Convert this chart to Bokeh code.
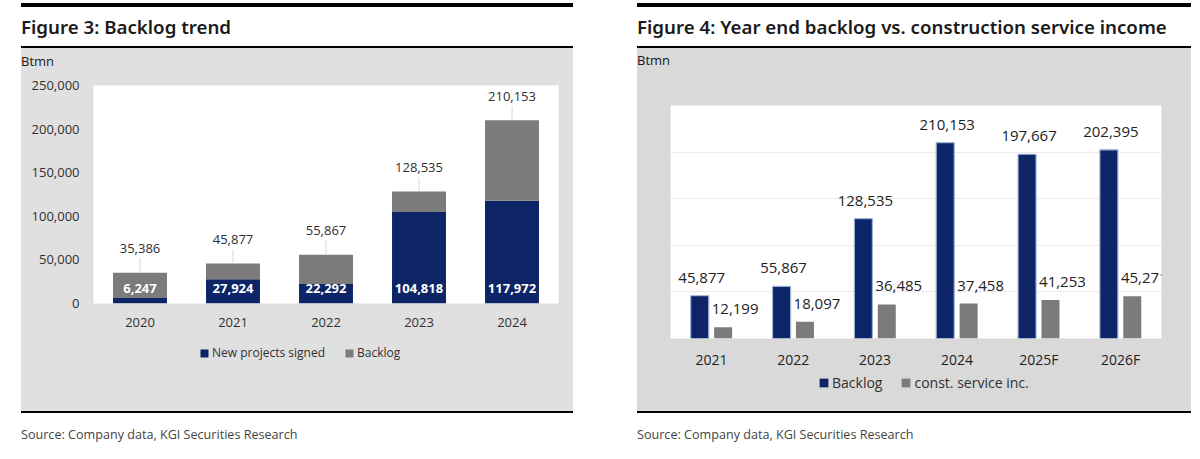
from bokeh.plotting import figure
from bokeh.models import (ColumnDataSource, Range1d, FixedTicker, NumeralTickFormatter,
                          Legend, LegendItem, Div, Spacer)
from bokeh.layouts import row, column
from bokeh.transform import dodge
from bokeh.core.properties import value
from bokeh.embed import file_html
from bokeh.resources import INLINE

# ---------------- data ----------------
years_l = ["2020", "2021", "2022", "2023", "2024"]
new_signed = [6247, 27924, 22292, 104818, 117972]
backlog_total = [35386, 45877, 55867, 128535, 210153]

years_r = ["2021", "2022", "2023", "2024", "2025F", "2026F"]
backlog_r = [45877, 55867, 128535, 210153, 197667, 202395]
const_inc = [12199, 18097, 36485, 37458, 41253, 45271]

y_ticks = [0, 50000, 100000, 150000, 200000, 250000]

title_l = "Figure 3: Backlog trend"
title_r = "Figure 4: Year end backlog vs. construction service income"
unit_txt = "Btmn"
source_txt = "Source: Company data, KGI Securities Research"

# ---------------- style ----------------
BLUE = "#0d2466"
GRAY = "#7b7b7b"
BG_L = "#e0e0e0"
BG_R = "#d9d9d9"
FONT = "Open Sans"
TXT = "#303030"
YMAX = 250000


def header(txt, w):
    html = (f'<div style="box-sizing:content-box;position:relative;top:3px;width:{w}px;height:39px;'
            f'border-top:4px solid #000;border-bottom:2px solid #000;'
            f'font-family:\'Noto Sans\';font-weight:600;font-size:18.7px;color:#1a1a1a;'
            f'line-height:39px;white-space:nowrap;">{txt}</div>')
    return Div(text=html, width=w, height=48, margin=(0, 0, 0, 0),
               styles={"overflow": "visible"})


def unit_div(txt, w, bg, pad):
    html = (f'<div style="box-sizing:border-box;width:{w}px;height:22px;background:{bg};'
            f'padding-top:{pad}px;font-family:\'Open Sans\';font-size:13px;color:#1a1a1a;'
            f'line-height:16px;white-space:nowrap;">{txt}</div>')
    return Div(text=html, width=w, height=22, margin=(0, 0, 0, 0),
               styles={"overflow": "visible", "background-color": bg})


def footer(txt, w):
    html = (f'<div style="box-sizing:content-box;width:{w}px;border-top:2px solid #000;padding-top:14px;'
            f'font-family:\'Open Sans\';font-size:12.6px;color:#444;line-height:15px;'
            f'white-space:nowrap;">{txt}</div>')
    return Div(text=html, width=w, height=36, margin=(0, 0, 0, 0),
               styles={"overflow": "visible"})


def legend_strip(w, h, bg, labels, colors, loc, font_px, glyph, spacing):
    lf = figure(width=w, height=h, x_range=Range1d(0, 1), y_range=Range1d(0, 1),
                output_backend="svg", toolbar_location=None,
                x_axis_location=None, y_axis_location=None, min_border=0,
                background_fill_color=bg, border_fill_color=bg, outline_line_color=None,
                styles={"background-color": bg})
    lf.grid.visible = False
    items = []
    for lab, col in zip(labels, colors):
        # one point outside the visible range so the legend swatch gets its colour
        r = lf.vbar(x=[5], top=[5], bottom=[4], width=0.1, fill_color=col, line_color=None)
        items.append(LegendItem(label=lab, renderers=[r]))
    lf.add_layout(Legend(items=items, location=loc, orientation="horizontal",
                         padding=0, margin=0, spacing=spacing, label_standoff=3,
                         glyph_width=glyph, glyph_height=glyph, label_height=14,
                         label_text_font=FONT, label_text_font_size=font_px,
                         label_text_color=TXT, border_line_color=None,
                         background_fill_alpha=0), "center")
    return lf


# ---------------- left chart ----------------
WL = 552
pl = figure(x_range=years_l, y_range=Range1d(0, YMAX), width=WL, height=268,
            output_backend="svg", toolbar_location=None,
            min_border_left=72, min_border_right=15, min_border_top=15, min_border_bottom=35,
            background_fill_color="white", border_fill_color=BG_L,
            outline_line_color=None, styles={"background-color": BG_L})
pl.xgrid.visible = False
pl.ygrid.visible = False

rest = [t - n for t, n in zip(backlog_total, new_signed)]
px_to_val = YMAX / 218.0
src_l = ColumnDataSource(dict(
    year=years_l, new=new_signed, rest=rest, total=backlog_total,
    lead=[t + 14 * px_to_val for t in backlog_total],
    total_lbl=[f"{v:,}" for v in backlog_total],
    new_lbl=[f"{v:,}" for v in new_signed],
    zero=[0] * len(years_l),
))
pl.vbar_stack(["new", "rest"], x="year", width=0.58, color=[BLUE, GRAY],
              line_color=None, source=src_l)
pl.segment(x0="year", y0="total", x1="year", y1="lead", source=src_l,
           line_color="#d6d6d6", line_width=1)
pl.text(x="year", y="total", text="total_lbl", source=src_l, y_offset=-24,
        text_align="center", text_baseline="middle", text_font=value(FONT),
        text_font_size="13px", text_color=TXT)
pl.text(x="year", y="zero", text="new_lbl", source=src_l, y_offset=-15,
        text_align="center", text_baseline="middle", text_font=value(FONT),
        text_font_size="13px", text_color="white", text_font_style="bold")

pl.yaxis.ticker = FixedTicker(ticks=y_ticks)
pl.yaxis.formatter = NumeralTickFormatter(format="0,0")
for ax in (pl.xaxis[0], pl.yaxis[0]):
    ax.axis_line_color = None
    ax.major_tick_line_color = None
    ax.minor_tick_line_color = None
    ax.major_tick_out = 0
    ax.minor_tick_out = 0
    ax.major_label_text_font = FONT
    ax.major_label_text_color = TXT
    ax.major_label_text_font_size = "13px"
pl.yaxis.major_label_standoff = 14
pl.xaxis.major_label_standoff = 14

leg_l = legend_strip(WL, 73, BG_L, ["New projects signed", "Backlog"], [BLUE, GRAY],
                     (106, 50), "12px", 10, 19)

# ---------------- right chart ----------------
WR = 554
pr = figure(x_range=years_r, y_range=Range1d(0, YMAX), width=WR, height=302,
            output_backend="svg", toolbar_location=None,
            min_border_left=33, min_border_right=30, min_border_top=35, min_border_bottom=34,
            background_fill_color="white", border_fill_color=BG_R,
            outline_line_color=None, styles={"background-color": BG_R})
pr.xgrid.visible = False
pr.yaxis.visible = False
pr.ygrid.ticker = FixedTicker(ticks=y_ticks[1:-1])
pr.ygrid.grid_line_color = "#ececec"

src_r = ColumnDataSource(dict(
    year=years_r, backlog=backlog_r, inc=const_inc,
    b_lbl=[f"{v:,}" for v in backlog_r], i_lbl=[f"{v:,}" for v in const_inc],
))
pr.vbar(x=dodge("year", -0.143, range=pr.x_range), top="backlog", width=0.22,
        source=src_r, fill_color=BLUE, line_color="#9fb0d6", line_width=1.2)
pr.vbar(x=dodge("year", 0.143, range=pr.x_range), top="inc", width=0.22,
        source=src_r, fill_color=GRAY, line_color=None)
pr.text(x=dodge("year", -0.143, range=pr.x_range), y="backlog", text="b_lbl",
        source=src_r, y_offset=-18, x_offset=2, text_align="center", text_baseline="middle",
        text_font=value(FONT), text_font_size="15px", text_color="#222222")
pr.text(x=dodge("year", 0.143, range=pr.x_range), y="inc", text="i_lbl",
        source=src_r, y_offset=-18, x_offset=12, text_align="center", text_baseline="middle",
        text_font=value(FONT), text_font_size="15px", text_color="#222222")

ax = pr.xaxis[0]
ax.axis_line_color = None
ax.major_tick_line_color = None
ax.minor_tick_line_color = None
ax.major_tick_out = 0
ax.minor_tick_out = 0
ax.major_label_text_font = FONT
ax.major_label_text_color = "#222222"
ax.major_label_text_font_size = "14px"
ax.major_label_standoff = 11

leg_r = legend_strip(WR, 39, BG_R, ["Backlog", "const. service inc."], [BLUE, GRAY],
                     (148, 19), "14px", 11, 18)

# ---------------- layout ----------------
left = column(header(title_l, WL), unit_div(unit_txt, WL, BG_L, 5), pl, leg_l,
              footer(source_txt, WL), spacing=0)
right = column(header(title_r, WR), unit_div(unit_txt, WR, BG_R, 4), pr, leg_r,
               footer(source_txt, WR), spacing=0)
page = row(Spacer(width=21), left, Spacer(width=64), right, spacing=0)

open("out.html", "w").write(file_html(page, INLINE))
